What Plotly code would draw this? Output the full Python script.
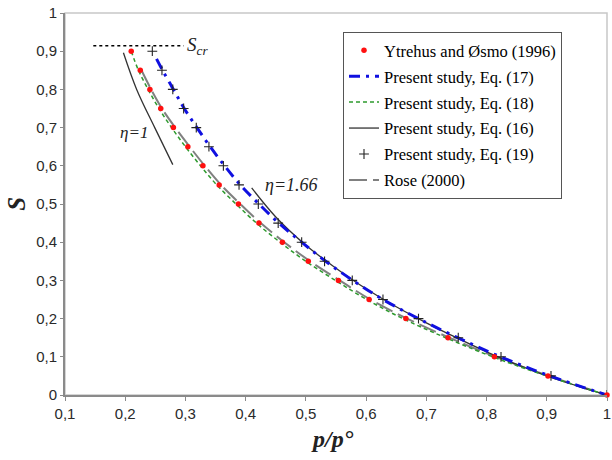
import plotly.graph_objects as go

# ---- data ----
S_levels = [0.90, 0.85, 0.80, 0.75, 0.70, 0.65, 0.60, 0.55, 0.50, 0.45,
            0.40, 0.35, 0.30, 0.25, 0.20, 0.15, 0.10, 0.05, 0.00]

ytrehus_p = [0.210, 0.225, 0.241, 0.259, 0.280, 0.304, 0.329, 0.356, 0.388, 0.422,
             0.461, 0.504, 0.554, 0.605, 0.666, 0.736, 0.813, 0.902, 1.000]
ytrehus_S = S_levels

eq19_p = [0.245, 0.261, 0.279, 0.297, 0.318, 0.339, 0.363, 0.389, 0.421, 0.454,
          0.493, 0.531, 0.577, 0.628, 0.687, 0.753, 0.824, 0.907, 1.000]
eq19_S = S_levels

eq17_p = [0.252, 0.262, 0.280, 0.298, 0.319, 0.341, 0.365, 0.391, 0.422, 0.455,
          0.493, 0.533, 0.578, 0.628, 0.687, 0.752, 0.823, 0.905, 1.000]
eq17_S = [0.88, 0.85, 0.80, 0.75, 0.70, 0.65, 0.60, 0.55, 0.50, 0.45,
          0.40, 0.35, 0.30, 0.25, 0.20, 0.15, 0.10, 0.05, 0.00]

eq18_p = [0.210, 0.222, 0.238, 0.256, 0.277, 0.300, 0.325, 0.352, 0.384, 0.418,
          0.457, 0.500, 0.549, 0.601, 0.661, 0.732, 0.810, 0.900, 1.000]
eq18_S = S_levels

rose_p = [0.227, 0.243, 0.261, 0.283, 0.307, 0.332, 0.359, 0.391, 0.425,
          0.464, 0.507, 0.556, 0.607, 0.668, 0.738, 0.815, 0.903, 1.000]
rose_S = [0.85, 0.80, 0.75, 0.70, 0.65, 0.60, 0.55, 0.50, 0.45,
          0.40, 0.35, 0.30, 0.25, 0.20, 0.15, 0.10, 0.05, 0.00]

eq16_p = [0.410, 0.450, 0.500, 0.550, 0.600, 0.650, 0.700, 0.750, 0.800, 0.850,
          0.900, 0.950, 1.000]
eq16_S = [0.542, 0.466, 0.392, 0.332, 0.278, 0.231, 0.189, 0.150, 0.113, 0.080,
          0.050, 0.024, 0.000]

eta1_p = [0.197, 0.219, 0.249, 0.279]
eta1_S = [0.896, 0.800, 0.700, 0.603]

scr_p = [0.147, 0.297]
scr_S = [0.914, 0.914]

x_ticks = [0.1, 0.2, 0.3, 0.4, 0.5, 0.6, 0.7, 0.8, 0.9, 1.0]
x_labels = ["0,1", "0,2", "0,3", "0,4", "0,5", "0,6", "0,7", "0,8", "0,9", "1"]
y_ticks = [0.0, 0.1, 0.2, 0.3, 0.4, 0.5, 0.6, 0.7, 0.8, 0.9, 1.0]
y_labels = ["0", "0,1", "0,2", "0,3", "0,4", "0,5", "0,6", "0,7", "0,8", "0,9", "1"]

serif = "Liberation Serif, Times New Roman, serif"
sans = "Liberation Sans, Arial, sans-serif"

PLOT_W = 612 - 65 - 5

fig = go.Figure()

# S_cr dotted line
fig.add_trace(go.Scatter(x=scr_p, y=scr_S, mode="lines", showlegend=False,
                         line=dict(color="black", width=1.5, dash="dot"),
                         hoverinfo="skip"))

# Rose (2000)
fig.add_trace(go.Scatter(x=rose_p, y=rose_S, mode="lines", name="Rose (2000)",
                         line=dict(color="#808080", width=2, dash="18px,6px", shape="spline"),
                         legendgroup="g6", legendrank=6))

# Eq. (16) eta = 1.66
fig.add_trace(go.Scatter(x=eq16_p, y=eq16_S, mode="lines", name="Present study, Eq. (16)",
                         line=dict(color="#333333", width=1.3, shape="spline"),
                         legendgroup="g4", legendrank=4))
# Eq. (16) eta = 1
fig.add_trace(go.Scatter(x=eta1_p, y=eta1_S, mode="lines", showlegend=False,
                         line=dict(color="#333333", width=1.3, shape="spline"),
                         legendgroup="g4"))

# Eq. (18)
fig.add_trace(go.Scatter(x=eq18_p, y=eq18_S, mode="lines", name="Present study, Eq. (18)",
                         line=dict(color="#2e9a2e", width=1.5, dash="4px,3px", shape="spline"),
                         legendgroup="g3", legendrank=3))

# Eq. (17)
fig.add_trace(go.Scatter(x=eq17_p, y=eq17_S, mode="lines", name="Present study, Eq. (17)",
                         line=dict(color="#1010e0", width=3, dash="11px,6px,3px,6px", shape="spline"),
                         legendgroup="g2", legendrank=2))

# Eq. (19)
fig.add_trace(go.Scatter(x=eq19_p, y=eq19_S, mode="markers", name="Present study, Eq. (19)",
                         marker=dict(symbol="cross-thin", size=7,
                                     line=dict(color="#222222", width=1.1)),
                         legendgroup="g5", legendrank=5))

# Ytrehus and Osmo
fig.add_trace(go.Scatter(x=ytrehus_p, y=ytrehus_S, mode="markers", name="Ytrehus and Øsmo (1996)",
                         marker=dict(symbol="circle", size=5.5, color="#ff1010"),
                         cliponaxis=False,
                         legendgroup="g1", legendrank=1))

fig.update_layout(
    width=612, height=460,
    margin=dict(l=65, r=5, t=13, b=64.5),
    paper_bgcolor="white", plot_bgcolor="white",
    showlegend=True,
    legend=dict(x=(343 - 65) / PLOT_W, y=(395.5 - 32) / 382.5, xanchor="left", yanchor="top",
                bgcolor="white", bordercolor="#555555", borderwidth=1,
                font=dict(family=serif, size=16.5, color="black"),
                traceorder="grouped", tracegroupgap=1.5),
    xaxis=dict(range=[0.1, 1.0], tickvals=x_ticks, ticktext=x_labels,
               showgrid=False, zeroline=False, automargin=False,
               ticklabeloverflow="allow",
               showline=True, linecolor="#8a8a8a", linewidth=2,
               ticks="outside", ticklen=4, tickcolor="#8a8a8a", tickwidth=1,
               tickfont=dict(family=sans, size=15, color="#2a2a2a")),
    yaxis=dict(range=[0, 1.0], tickvals=y_ticks, ticktext=y_labels,
               showgrid=False, zeroline=False, automargin=False,
               ticklabeloverflow="allow",
               showline=True, linecolor="#8a8a8a", linewidth=2,
               ticks="outside", ticklen=3, tickcolor="#8a8a8a", tickwidth=1,
               tickfont=dict(family=sans, size=15, color="#2a2a2a")),
    shapes=[dict(type="rect", xref="paper", yref="paper", x0=0, x1=1, y0=0, y1=1,
                 line=dict(color="#c8c8c8", width=1.5), layer="below")],
    annotations=[
        dict(x=(17 - 65) / PLOT_W, y=(395.5 - 204) / 382.5, xref="paper", yref="paper",
             text="<b><i>S</i></b>", textangle=-90, showarrow=False,
             xanchor="center", yanchor="middle",
             font=dict(family=serif, size=25, color="#222222")),
        dict(x=(332 - 65) / PLOT_W, y=(395.5 - 440) / 382.5, xref="paper", yref="paper",
             text="<b><i>p/p°</i></b>", showarrow=False,
             xanchor="center", yanchor="middle",
             font=dict(family=serif, size=24, color="#222222")),
        dict(x=0.300, y=0.914, xref="x", yref="y", text="<i>S<sub>cr</sub></i>",
             showarrow=False, xanchor="left", yanchor="middle",
             font=dict(family=serif, size=19, color="#222222")),
        dict(x=0.215, y=0.686, xref="x", yref="y", text="<i>η=1</i>",
             showarrow=False, xanchor="center", yanchor="middle",
             font=dict(family=serif, size=17, color="#222222")),
        dict(x=0.4765, y=0.55, xref="x", yref="y", text="<i>η=1.66</i>",
             showarrow=False, xanchor="center", yanchor="middle",
             font=dict(family=serif, size=18, color="#222222")),
    ],
)

fig.write_html("out.html",
               config={"displayModeBar": False},
               post_script="document.body.style.margin='0';document.body.style.overflow='hidden';")
